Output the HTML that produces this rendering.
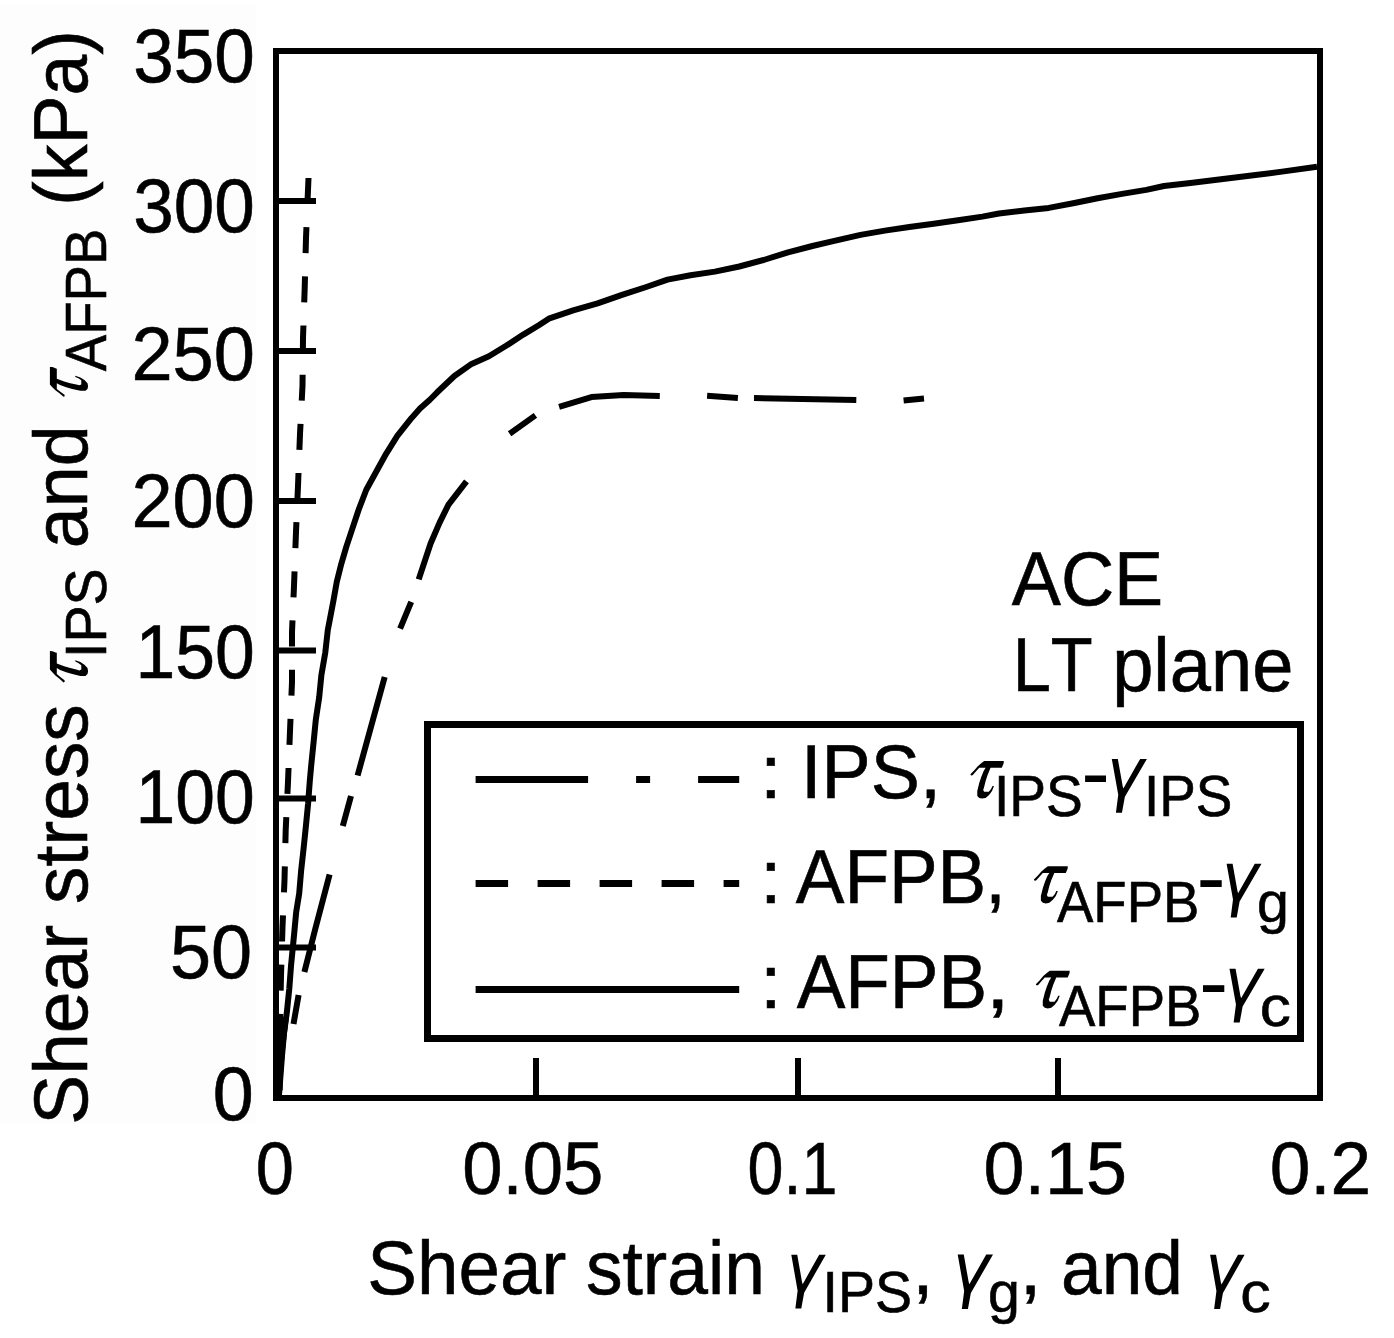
<!DOCTYPE html><html><head><meta charset="utf-8"><style>html,body{margin:0;padding:0;background:#fff;overflow:hidden}svg{display:block}text{font-family:"Liberation Sans",sans-serif;fill:#000;stroke:#000;stroke-width:0.6px;font-kerning:none}</style></head><body>
<svg width="1394" height="1338" viewBox="0 0 1394 1338">
<rect width="1394" height="1338" fill="#fff"/>
<rect x="0" y="4" width="256" height="1120" fill="#fdfdfd"/>
<rect x="276" y="51" width="1044" height="1047" fill="none" stroke="#000" stroke-width="6"/>
<line x1="276" y1="201" x2="316" y2="201" stroke="#000" stroke-width="6"/>
<line x1="276" y1="351" x2="316" y2="351" stroke="#000" stroke-width="6"/>
<line x1="276" y1="501" x2="316" y2="501" stroke="#000" stroke-width="6"/>
<line x1="276" y1="650.5" x2="316" y2="650.5" stroke="#000" stroke-width="6"/>
<line x1="276" y1="798.5" x2="316" y2="798.5" stroke="#000" stroke-width="6"/>
<line x1="276" y1="947.5" x2="316" y2="947.5" stroke="#000" stroke-width="6"/>
<line x1="536" y1="1058" x2="536" y2="1098" stroke="#000" stroke-width="6"/>
<line x1="798" y1="1058" x2="798" y2="1098" stroke="#000" stroke-width="6"/>
<line x1="1058" y1="1058" x2="1058" y2="1098" stroke="#000" stroke-width="6"/>
<text x="133.22" y="82" font-size="76" textLength="121.62" lengthAdjust="spacingAndGlyphs">350</text>
<text x="133.22" y="231.5" font-size="76" textLength="121.62" lengthAdjust="spacingAndGlyphs">300</text>
<text x="131.38" y="379.6" font-size="76" textLength="123.51" lengthAdjust="spacingAndGlyphs">250</text>
<text x="131.38" y="526.8" font-size="76" textLength="123.51" lengthAdjust="spacingAndGlyphs">200</text>
<text x="135.56" y="677.9" font-size="76" textLength="119.24" lengthAdjust="spacingAndGlyphs">150</text>
<text x="135.56" y="822.7" font-size="76" textLength="119.24" lengthAdjust="spacingAndGlyphs">100</text>
<text x="169.94" y="977.7" font-size="76" textLength="82.14" lengthAdjust="spacingAndGlyphs">50</text>
<text x="212.82" y="1119.8" font-size="76" textLength="40.95" lengthAdjust="spacingAndGlyphs">0</text>
<text x="255.72" y="1194" font-size="75" textLength="38.16" lengthAdjust="spacingAndGlyphs">0</text>
<text x="462.17" y="1194" font-size="75" textLength="141.18" lengthAdjust="spacingAndGlyphs">0.05</text>
<text x="747.58" y="1194" font-size="75" textLength="89.78" lengthAdjust="spacingAndGlyphs">0.1</text>
<text x="983.62" y="1194" font-size="75" textLength="143.48" lengthAdjust="spacingAndGlyphs">0.15</text>
<text x="1269.64" y="1194" font-size="75" textLength="101.63" lengthAdjust="spacingAndGlyphs">0.2</text>
<text x="1011.76" y="604.8" font-size="76" textLength="151.51" lengthAdjust="spacingAndGlyphs">ACE</text>
<text x="1012.68" y="690.6" font-size="76" textLength="80.00" lengthAdjust="spacingAndGlyphs">LT</text>
<text x="1112.13" y="690.6" font-size="76" textLength="181.27" lengthAdjust="spacingAndGlyphs">plane</text>
<text x="367.31" y="1294.2" font-size="76" textLength="199.13" lengthAdjust="spacingAndGlyphs">Shear</text>
<text x="585.96" y="1294.2" font-size="76" textLength="178.89" lengthAdjust="spacingAndGlyphs">strain</text>
<path transform="translate(791.30,1293.66) scale(0.9885,0.9963)" d="M0 -39.1 L6 -39.1 L10.8 -12 L11.5 -9.5 L28.2 -39.1 L34.9 -39.1 L13 -1 L10.1 14.9 L4.1 14.9 L6.4 -3 Z"/>
<text x="822.58" y="1312" font-size="57" textLength="89.47" lengthAdjust="spacingAndGlyphs">IPS</text>
<text x="911.95" y="1294.2" font-size="76" textLength="21.80" lengthAdjust="spacingAndGlyphs">,</text>
<path transform="translate(957.70,1293.92) scale(1.0115,1.0056)" d="M0 -39.1 L6 -39.1 L10.8 -12 L11.5 -9.5 L28.2 -39.1 L34.9 -39.1 L13 -1 L10.1 14.9 L4.1 14.9 L6.4 -3 Z"/>
<text x="988.09" y="1312" font-size="57" textLength="31.91" lengthAdjust="spacingAndGlyphs">g</text>
<text x="1019.46" y="1294.2" font-size="76" textLength="22.08" lengthAdjust="spacingAndGlyphs">,</text>
<text x="1060.99" y="1294.2" font-size="76" textLength="122.02" lengthAdjust="spacingAndGlyphs">and</text>
<path transform="translate(1210.10,1294.04) scale(0.9885,1.0037)" d="M0 -39.1 L6 -39.1 L10.8 -12 L11.5 -9.5 L28.2 -39.1 L34.9 -39.1 L13 -1 L10.1 14.9 L4.1 14.9 L6.4 -3 Z"/>
<text x="1240.22" y="1311.5" font-size="57" textLength="30.38" lengthAdjust="spacingAndGlyphs">c</text>
<g transform="rotate(-90)">
<text x="-1124.80" y="86.8" font-size="76" textLength="420.61" lengthAdjust="spacingAndGlyphs">Shear stress</text>
<path transform="translate(-682.40,87.49) scale(0.9235,1.0160)" d="M0 -23.6 L4 -27.6 L7.5 -31.6 L11 -34.6 L14 -37 L34 -37 L33.8 -34.5 L32.5 -31.5 L32 -30.2 L20.5 -30.2 L17.5 -23 L15.5 -17 L14 -11 L13 -8 L14 -6.1 L18.7 -6.1 L21 -9 L22.5 -12 L24 -12 L22 -7 L19 -3 L15.5 0 L12 0.6 L9 0 L7 -2 L7 -7 L9 -15 L11 -21 L13.5 -27 L15.5 -30.2 L9 -30.2 L5.6 -26.4 L2.2 -22.6 L0.6 -22.4 Z"/>
<text x="-658.03" y="105.9" font-size="57" textLength="89.58" lengthAdjust="spacingAndGlyphs">IPS</text>
<text x="-548.13" y="87" font-size="76" textLength="122.88" lengthAdjust="spacingAndGlyphs">and</text>
<path transform="translate(-396.80,87.49) scale(0.8794,1.0160)" d="M0 -23.6 L4 -27.6 L7.5 -31.6 L11 -34.6 L14 -37 L34 -37 L33.8 -34.5 L32.5 -31.5 L32 -30.2 L20.5 -30.2 L17.5 -23 L15.5 -17 L14 -11 L13 -8 L14 -6.1 L18.7 -6.1 L21 -9 L22.5 -12 L24 -12 L22 -7 L19 -3 L15.5 0 L12 0.6 L9 0 L7 -2 L7 -7 L9 -15 L11 -21 L13.5 -27 L15.5 -30.2 L9 -30.2 L5.6 -26.4 L2.2 -22.6 L0.6 -22.4 Z"/>
<text x="-371.31" y="105.8" font-size="57" textLength="142.69" lengthAdjust="spacingAndGlyphs">AFPB</text>
<text x="-205.65" y="86.8" font-size="76" textLength="175.41" lengthAdjust="spacingAndGlyphs">(kPa)</text>
</g>
<rect x="427.5" y="724.5" width="873" height="314" fill="none" stroke="#000" stroke-width="7"/>
<line x1="475.6" y1="779.5" x2="739.2" y2="779.5" stroke="#000" stroke-width="7" stroke-dasharray="112.5 48 14 48"/>
<line x1="475.6" y1="883.5" x2="739.2" y2="883.5" stroke="#000" stroke-width="7" stroke-dasharray="32.5 29.5"/>
<line x1="475.6" y1="989.5" x2="739.2" y2="989.5" stroke="#000" stroke-width="7"/>
<text x="759.90" y="798" font-size="76" textLength="21.59" lengthAdjust="spacingAndGlyphs">:</text>
<text x="759.90" y="902.8" font-size="76" textLength="21.59" lengthAdjust="spacingAndGlyphs">:</text>
<text x="759.90" y="1007.8" font-size="76" textLength="21.59" lengthAdjust="spacingAndGlyphs">:</text>
<text x="801.00" y="798" font-size="76" textLength="118.78" lengthAdjust="spacingAndGlyphs">IPS</text>
<text x="919.84" y="798" font-size="76" textLength="21.51" lengthAdjust="spacingAndGlyphs">,</text>
<path transform="translate(970.40,797.90) scale(0.9824,1.0000)" d="M0 -23.6 L4 -27.6 L7.5 -31.6 L11 -34.6 L14 -37 L34 -37 L33.8 -34.5 L32.5 -31.5 L32 -30.2 L20.5 -30.2 L17.5 -23 L15.5 -17 L14 -11 L13 -8 L14 -6.1 L18.7 -6.1 L21 -9 L22.5 -12 L24 -12 L22 -7 L19 -3 L15.5 0 L12 0.6 L9 0 L7 -2 L7 -7 L9 -15 L11 -21 L13.5 -27 L15.5 -30.2 L9 -30.2 L5.6 -26.4 L2.2 -22.6 L0.6 -22.4 Z"/>
<text x="993.91" y="816" font-size="57" textLength="88.81" lengthAdjust="spacingAndGlyphs">IPS</text>
<rect x="1085.1" y="775.5" width="20.9" height="6.5"/>
<path transform="translate(1111.80,797.86) scale(1.0057,0.9963)" d="M0 -39.1 L6 -39.1 L10.8 -12 L11.5 -9.5 L28.2 -39.1 L34.9 -39.1 L13 -1 L10.1 14.9 L4.1 14.9 L6.4 -3 Z"/>
<text x="1143.94" y="816" font-size="57" textLength="88.38" lengthAdjust="spacingAndGlyphs">IPS</text>
<text x="795.76" y="902.8" font-size="76" textLength="190.49" lengthAdjust="spacingAndGlyphs">AFPB</text>
<text x="984.93" y="902.8" font-size="76" textLength="20.95" lengthAdjust="spacingAndGlyphs">,</text>
<path transform="translate(1033.90,902.81) scale(0.9971,0.9894)" d="M0 -23.6 L4 -27.6 L7.5 -31.6 L11 -34.6 L14 -37 L34 -37 L33.8 -34.5 L32.5 -31.5 L32 -30.2 L20.5 -30.2 L17.5 -23 L15.5 -17 L14 -11 L13 -8 L14 -6.1 L18.7 -6.1 L21 -9 L22.5 -12 L24 -12 L22 -7 L19 -3 L15.5 0 L12 0.6 L9 0 L7 -2 L7 -7 L9 -15 L11 -21 L13.5 -27 L15.5 -30.2 L9 -30.2 L5.6 -26.4 L2.2 -22.6 L0.6 -22.4 Z"/>
<text x="1056.99" y="921.8" font-size="57" textLength="142.48" lengthAdjust="spacingAndGlyphs">AFPB</text>
<rect x="1200.4" y="880.2" width="21.3" height="6.8"/>
<path transform="translate(1226.60,902.58) scale(1.0000,0.9944)" d="M0 -39.1 L6 -39.1 L10.8 -12 L11.5 -9.5 L28.2 -39.1 L34.9 -39.1 L13 -1 L10.1 14.9 L4.1 14.9 L6.4 -3 Z"/>
<text x="1257.09" y="921.8" font-size="57" textLength="31.91" lengthAdjust="spacingAndGlyphs">g</text>
<text x="796.66" y="1007.8" font-size="76" textLength="190.49" lengthAdjust="spacingAndGlyphs">AFPB</text>
<text x="985.72" y="1007.8" font-size="76" textLength="24.06" lengthAdjust="spacingAndGlyphs">,</text>
<path transform="translate(1035.80,1007.80) scale(0.9971,1.0027)" d="M0 -23.6 L4 -27.6 L7.5 -31.6 L11 -34.6 L14 -37 L34 -37 L33.8 -34.5 L32.5 -31.5 L32 -30.2 L20.5 -30.2 L17.5 -23 L15.5 -17 L14 -11 L13 -8 L14 -6.1 L18.7 -6.1 L21 -9 L22.5 -12 L24 -12 L22 -7 L19 -3 L15.5 0 L12 0.6 L9 0 L7 -2 L7 -7 L9 -15 L11 -21 L13.5 -27 L15.5 -30.2 L9 -30.2 L5.6 -26.4 L2.2 -22.6 L0.6 -22.4 Z"/>
<text x="1058.99" y="1025.9" font-size="57" textLength="142.38" lengthAdjust="spacingAndGlyphs">AFPB</text>
<rect x="1203" y="985.2" width="21.3" height="6.8"/>
<path transform="translate(1229.50,1007.58) scale(1.0086,0.9944)" d="M0 -39.1 L6 -39.1 L10.8 -12 L11.5 -9.5 L28.2 -39.1 L34.9 -39.1 L13 -1 L10.1 14.9 L4.1 14.9 L6.4 -3 Z"/>
<text x="1259.76" y="1025.5" font-size="57" textLength="31.08" lengthAdjust="spacingAndGlyphs">c</text>
<path d="M279 1095 L282 1055.8 L284 1033.4 L287 1011 L289.3 988.5 L291 966 L294.3 932.4 L296.2 912 L299.2 893.4 L301.1 870.9 L303.6 848.5 L305.9 826.1 L308.1 803.6 L309.8 781 L311.3 764.6 L313.6 742.1 L315.8 719.7 L319.2 697.3 L321.4 674.9 L325.3 652.4 L327.8 630 L330.2 617.6 L333.6 599.7 L336.8 581.7 L341.3 563.8 L346.6 545.9 L352.6 527.9 L358.9 509 L366.3 489.7 L376.2 471.7 L386.1 453.8 L397.3 435.9 L411.6 417.9 L420 408.6 L429.6 400 L437.2 392.3 L454.4 376 L471.6 363.9 L488.9 356.3 L506.1 345.8 L523.3 334.6 L538.8 325.2 L548.8 318.7 L573.2 310.4 L597.6 303.4 L622 294.9 L646.3 287 L667.5 279.6 L690.5 275.2 L714.9 271.6 L739.3 266.5 L763.7 260 L788 252.4 L812.4 246 L830 241.8 L860.5 234.9 L884.9 230.6 L909.3 227 L933.7 223.7 L958 220.2 L982.4 216.6 L999 213.5 L1024.4 210.6 L1048.8 207.9 L1073.2 203.3 L1097.6 198.2 L1122 193.9 L1146.3 189.9 L1164 186 L1190.5 182.9 L1221 179.3 L1251.5 175.6 L1282 171.6 L1317 166.8" fill="none" stroke="#000" stroke-width="6" stroke-linejoin="round"/>
<path d="M903.6 400.5 L924 398.5 M754 398 L856.3 400.1 M707.1 395.8 L737.9 398 M559.1 406.8 L591.4 397.1 L623.7 395 L659.8 396 M509.6 433.7 L535.4 415.4 M466.5 481.3 L448.5 504.6 L439.6 522.6 L430.6 543.5 L418.7 579.4 M411.2 601.8 L400.1 628.7 M384.7 677 L357.6 775.5 M351 796 L342.8 826 M329.6 874.6 L315 930 L304.4 972 M298.6 995 L293.5 1024" fill="none" stroke="#000" stroke-width="6" stroke-linejoin="round"/>
<path d="M308.5 178 L306 238 L304.7 288 L303 338 L302.5 386 L300 434 L298 486 L296 532 L294 586 L292 632 L292 682 L290 731 L288 782 L285.7 830 L284.5 880 L282.5 927 L281 976 L279.5 1040 L279 1095" fill="none" stroke="#000" stroke-width="6" stroke-dasharray="26 23.2"/>
<path d="M279 1017 L288.9 1017 L286.7 1035 L284.8 1052 L283 1074 L282.6 1090 L279 1095 Z"/>
</svg></body></html>
